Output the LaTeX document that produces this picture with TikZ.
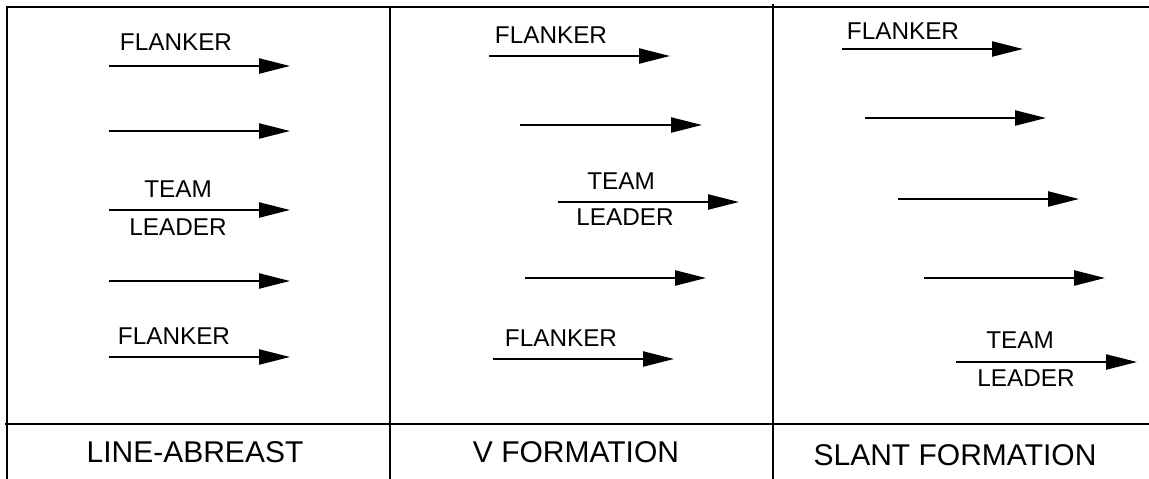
\documentclass[tikz,border=0pt]{standalone}
\usepackage{fontspec}
\setmainfont{Liberation Sans}
\usetikzlibrary{arrows.meta}

\begin{document}
\begin{tikzpicture}[x=1pt,y=-1pt,frame/.style={line width=1.8pt},move/.style={line width=2.3pt,-{Triangle[length=31pt,width=15pt]}},tag/.style={font=\fontsize{24.3}{27}\selectfont,inner sep=0pt},title/.style={font=\fontsize{30}{33}\selectfont,inner sep=0pt}]
\def\ybar{424};
\def\ybot{479};

\useasboundingbox (0,0) rectangle (1149,\ybot);

% table lines
\draw[frame] (7,\ybot) -- (7,7) -- (1149,7);
\draw[frame] (390,7) -- (390,\ybot);
\draw[frame] (773,4) -- (773,\ybot);
\draw[frame] (5,\ybar) -- (1149,\ybar);

% line-abreast
\foreach \n/\y/\a/\b in {1/66/109/290,2/131/109/290,3/210/109/290,4/281/109/290,5/357/109/290}{
  \coordinate (La\n) at (\a,\y);
  \coordinate (Lb\n) at (\b,\y);
  \draw[move] (La\n) -- (Lb\n);
}
\node[tag] (flankL1) at (176,42) {FLANKER};
\node[tag] (teamL) at (178,189) {TEAM};
\node[tag] (leadL) at (178,227) {LEADER};
\node[tag] (flankL5) at (174,336) {FLANKER};
\node[title] (lineab) at (195,452) {LINE-ABREAST};

% v formation
\foreach \n/\y/\a/\b in {1/56/489/670,2/125/520/702,3/202/558/739,4/278/525/706,5/359/493/674}{
  \coordinate (Va\n) at (\a,\y);
  \coordinate (Vb\n) at (\b,\y);
  \draw[move] (Va\n) -- (Vb\n);
}
\node[tag] (flankV1) at (551,35.5) {FLANKER};
\node[tag] (teamV) at (621,181) {TEAM};
\node[tag] (leadV) at (625,217) {LEADER};
\node[tag] (flankV5) at (561,338) {FLANKER};
\node[title] (vform) at (576,452.5) {V FORMATION};

% slant formation
\foreach \n/\y/\a/\b in {1/49/842/1023,2/118/865/1046,3/199/898/1079,4/278/924/1105,5/362/956/1137}{
  \coordinate (Sa\n) at (\a,\y);
  \coordinate (Sb\n) at (\b,\y);
  \draw[move] (Sa\n) -- (Sb\n);
}
\node[tag] (flankS1) at (903,31) {FLANKER};
\node[tag] (teamS) at (1020,340) {TEAM};
\node[tag] (leadS) at (1026,378) {LEADER};
\node[title] (slform) at (955,455) {SLANT FORMATION};

\end{tikzpicture}
\end{document}
